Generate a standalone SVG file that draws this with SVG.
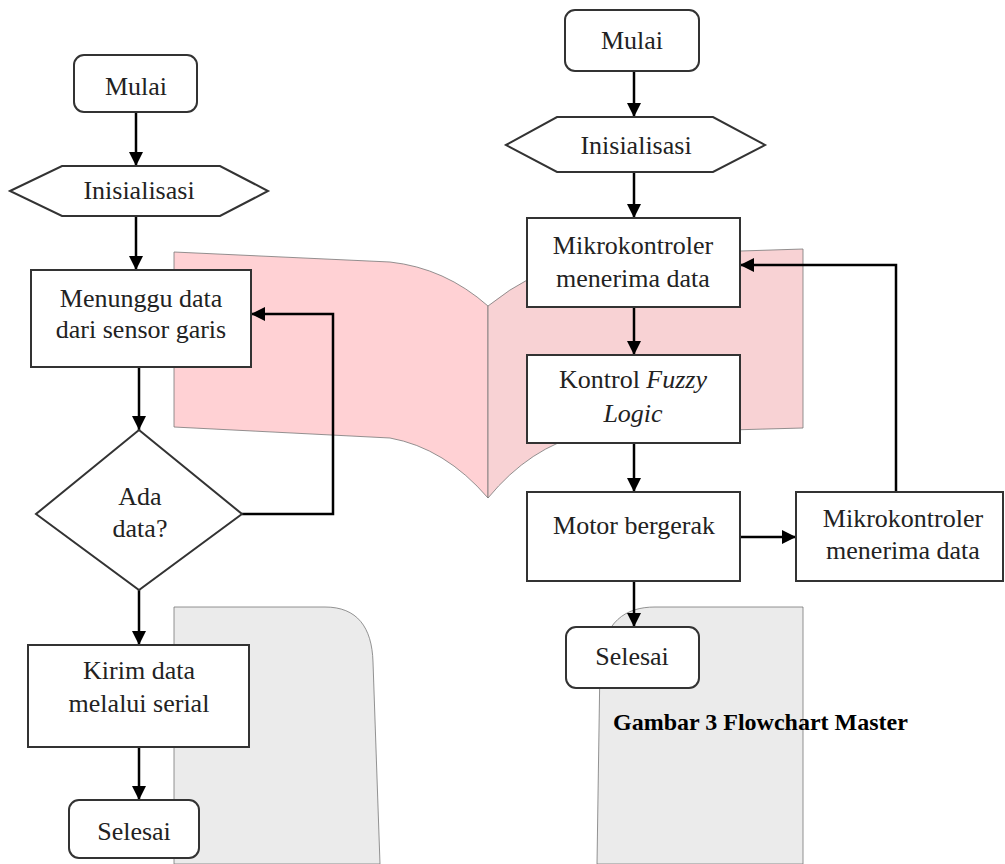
<svg xmlns="http://www.w3.org/2000/svg" width="1005" height="864" viewBox="0 0 1005 864">
<defs>
<marker id="ah" markerUnits="userSpaceOnUse" markerWidth="14" markerHeight="14" viewBox="0 0 14 14" refX="14" refY="7" orient="auto">
<path d="M0,0 L14,7 L0,14 Z" fill="#000"/>
</marker>
<style>
.bg{stroke:#777;stroke-width:0.8}
.n{fill:#fff;stroke:#333;stroke-width:2}
.t{font-family:"Liberation Serif","Times New Roman",serif;font-size:26px;fill:#222;text-anchor:middle}
.c{fill:none;stroke:#000;stroke-width:2.5}
.cap{font-family:"Liberation Serif","Times New Roman",serif;font-size:24px;font-weight:bold;fill:#000}
</style>
</defs>
<rect width="1005" height="864" fill="#fff"/>
<g id="background">
<path class="bg" fill="#ffd1d4" d="M174,252 L390,262 Q445,268 488,306 L488,498 Q445,448 390,438 L174,427 Z"/>
<path class="bg" fill="#f8d2d4" d="M488,306 Q530,272 585,256 L803,249 L803,428 L585,434 Q530,447 488,498 Z"/>
<path class="bg" fill="#ebebeb" d="M174,864 L174,607 L325,607 C357,607 372,627 373,662 L380,864 Z"/>
<path class="bg" fill="#ebebeb" d="M803,864 L803,607 L655,607 C625,607 604,622 600,662 L597,864 Z"/>
</g>
<g id="connectors">
<path class="c" marker-end="url(#ah)" d="M136,112 L136,166"/>
<path class="c" marker-end="url(#ah)" d="M136,216 L136,270"/>
<path class="c" marker-end="url(#ah)" d="M139,367 L139,430"/>
<path class="c" marker-end="url(#ah)" d="M242,514 L333,514 L333,314 L251,314"/>
<path class="c" marker-end="url(#ah)" d="M139,590 L139,645"/>
<path class="c" marker-end="url(#ah)" d="M139,747 L139,800"/>
<path class="c" marker-end="url(#ah)" d="M634,71 L634,117"/>
<path class="c" marker-end="url(#ah)" d="M634,172 L634,218"/>
<path class="c" marker-end="url(#ah)" d="M634,307 L634,355"/>
<path class="c" marker-end="url(#ah)" d="M634,443 L634,492"/>
<path class="c" marker-end="url(#ah)" d="M740,537 L796,537"/>
<path class="c" marker-end="url(#ah)" d="M896,492 L896,265 L740,265"/>
<path class="c" marker-end="url(#ah)" d="M634,581 L634,627"/>
</g>
<g id="mulai-left">
<rect class="n" x="74" y="55" width="123" height="57" rx="10"/>
<text class="t" x="136" y="95">Mulai</text>
</g>
<g id="init-left">
<polygon class="n" points="10,191 62,166 220,166 268,191 220,216 62,216"/>
<text class="t" x="139" y="199">Inisialisasi</text>
</g>
<g id="menunggu">
<rect class="n" x="31" y="270" width="220" height="97"/>
<text class="t" x="141" y="307">Menunggu data</text>
<text class="t" x="141" y="338">dari sensor garis</text>
</g>
<g id="ada-data">
<polygon class="n" points="139,430 242,514 139,590 36,514"/>
<text class="t" x="140" y="505">Ada</text>
<text class="t" x="140" y="537">data?</text>
</g>
<g id="kirim">
<rect class="n" x="28" y="645" width="221" height="102"/>
<text class="t" x="139" y="679">Kirim data</text>
<text class="t" x="139" y="712">melalui serial</text>
</g>
<g id="selesai-left">
<rect class="n" x="69" y="800" width="130" height="58" rx="10"/>
<text class="t" x="134" y="840">Selesai</text>
</g>
<g id="mulai-right">
<rect class="n" x="565" y="10" width="134" height="61" rx="10"/>
<text class="t" x="632" y="49">Mulai</text>
</g>
<g id="init-right">
<polygon class="n" points="506,145 557,117 713,117 765,145 713,172 557,172"/>
<text class="t" x="636" y="154">Inisialisasi</text>
</g>
<g id="mikro-1">
<rect class="n" x="527" y="218" width="213" height="89"/>
<text class="t" x="633" y="254">Mikrokontroler</text>
<text class="t" x="633" y="287">menerima data</text>
</g>
<g id="fuzzy">
<rect class="n" x="527" y="355" width="213" height="88"/>
<text class="t" x="633" y="388">Kontrol <tspan font-style="italic">Fuzzy</tspan></text>
<text class="t" x="633" y="422" font-style="italic">Logic</text>
</g>
<g id="motor">
<rect class="n" x="527" y="492" width="213" height="89"/>
<text class="t" x="634" y="534">Motor bergerak</text>
</g>
<g id="mikro-2">
<rect class="n" x="796" y="492" width="207" height="89"/>
<text class="t" x="903" y="527">Mikrokontroler</text>
<text class="t" x="903" y="559">menerima data</text>
</g>
<g id="selesai-right">
<rect class="n" x="566" y="627" width="133" height="61" rx="10"/>
<text class="t" x="632" y="665">Selesai</text>
</g>
<g id="caption">
<text class="cap" x="613" y="730">Gambar 3 Flowchart Master</text>
</g>
</svg>
